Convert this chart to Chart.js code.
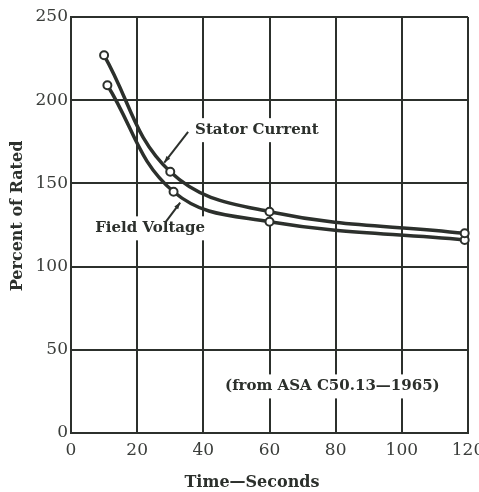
<!DOCTYPE html>
<html>
<head>
<meta charset="utf-8">
<script src="https://cdn.jsdelivr.net/npm/chart.js@4.4.0/dist/chart.umd.min.js"></script>
<style>
    html, body { margin: 0; padding: 0; background: #fff; }
</style>
</head>
<body>
<canvas id="chart" width="479" height="492"></canvas>
<script>
// values
const statorTime = [10, 30, 60, 119];
const statorPct = [227, 157, 133, 120];
const fieldTime = [11, 31, 60, 119];
const fieldPct = [209, 145, 127, 116];

const xTicks = [0, 20, 40, 60, 80, 100, 120];
const yTicks = [0, 50, 100, 150, 200, 250];

const noteTexts = ['Stator Current', 'Field Voltage', '(from ASA C50.13\u20141965)'];

const ink = '#2c302c';
const serif = '"DejaVu Serif", "Liberation Serif", serif';

const toPoints = (xs, ys) => xs.map((x, i) => ({ x: x, y: ys[i] }));

// labels, leader lines and axis titles
const notesPlugin = {
    id: 'notes',
    afterDraw(chart) {
        const ctx = chart.ctx;
        const xs = chart.scales.x, ys = chart.scales.y;
        const px = v => xs.getPixelForValue(v);
        const py = v => ys.getPixelForValue(v);

        ctx.save();
        ctx.fillStyle = ink;
        ctx.strokeStyle = ink;
        ctx.textBaseline = 'middle';

        const label = (text, x, y, align) => {
            ctx.font = 'bold 15px ' + serif;
            const w = ctx.measureText(text).width;
            const left = align === 'center' ? x - w / 2 : x;
            ctx.fillStyle = '#fff';
            ctx.fillRect(left - 3, y - 12, w + 6, 24);
            ctx.fillStyle = ink;
            ctx.textAlign = 'left';
            ctx.fillText(text, left, y);
        };
        label(noteTexts[0], px(37.5), py(182), 'left');
        label(noteTexts[1], px(7.3), py(123), 'left');
        label(noteTexts[2], px(79), py(28), 'center');

        const arrow = (x0, y0, x1, y1) => {
            const a = px(x0), b = py(y0), c = px(x1), d = py(y1);
            ctx.lineWidth = 2;
            ctx.beginPath();
            ctx.moveTo(a, b);
            ctx.lineTo(c, d);
            ctx.stroke();
            const ang = Math.atan2(d - b, c - a);
            ctx.beginPath();
            ctx.moveTo(c, d);
            ctx.lineTo(c - 7 * Math.cos(ang - 0.35), d - 7 * Math.sin(ang - 0.35));
            ctx.lineTo(c - 7 * Math.cos(ang + 0.35), d - 7 * Math.sin(ang + 0.35));
            ctx.closePath();
            ctx.fill();
        };
        arrow(35.4, 181, 28.2, 162.5);
        arrow(28.7, 127, 33, 138.5);

        // axis titles
        ctx.font = 'bold 16px ' + serif;
        ctx.textAlign = 'center';
        ctx.fillText('Time\u2014Seconds', 252, 483);
        ctx.translate(18, 216);
        ctx.rotate(-Math.PI / 2);
        ctx.fillText('Percent of Rated', 0, 0);
        ctx.restore();
    }
};

const lineStyle = {
    showLine: true,
    borderColor: ink,
    borderWidth: 3.5,
    tension: 0.4,
    pointRadius: 4,
    pointBorderWidth: 2,
    pointBackgroundColor: '#fff',
    pointBorderColor: ink,
    clip: false
};

new Chart(document.getElementById('chart').getContext('2d'), {
    type: 'scatter',
    data: {
        datasets: [
            Object.assign({ label: 'Stator Current', data: toPoints(statorTime, statorPct) }, lineStyle),
            Object.assign({ label: 'Field Voltage', data: toPoints(fieldTime, fieldPct) }, lineStyle)
        ]
    },
    options: {
        responsive: false,
        animation: false,
        layout: {
            padding: { left: 0, top: 17, right: 11, bottom: 0 }
        },
        plugins: {
            legend: { display: false },
            tooltip: { enabled: false }
        },
        scales: {
            x: {
                type: 'linear',
                min: 0,
                max: 120,
                afterBuildTicks: s => { s.ticks = xTicks.map(v => ({ value: v })); },
                afterFit: s => { s.height = 59; s.paddingLeft = 0; s.paddingRight = 0; },
                grid: { color: ink, lineWidth: 2, drawTicks: false },
                border: { color: ink, width: 2 },
                ticks: {
                    padding: 7,
                    color: '#3a3d3a',
                    font: { family: serif, size: 17 }
                }
            },
            y: {
                type: 'linear',
                min: 0,
                max: 250,
                afterBuildTicks: s => { s.ticks = yTicks.map(v => ({ value: v })); },
                afterFit: s => { s.width = 71; s.paddingTop = 0; s.paddingBottom = 0; },
                grid: { color: ink, lineWidth: 2, drawTicks: false },
                border: { color: ink, width: 2 },
                ticks: {
                    padding: 3,
                    color: '#3a3d3a',
                    font: { family: serif, size: 17 }
                }
            }
        }
    },
    plugins: [notesPlugin]
});
</script>
</body>
</html>
